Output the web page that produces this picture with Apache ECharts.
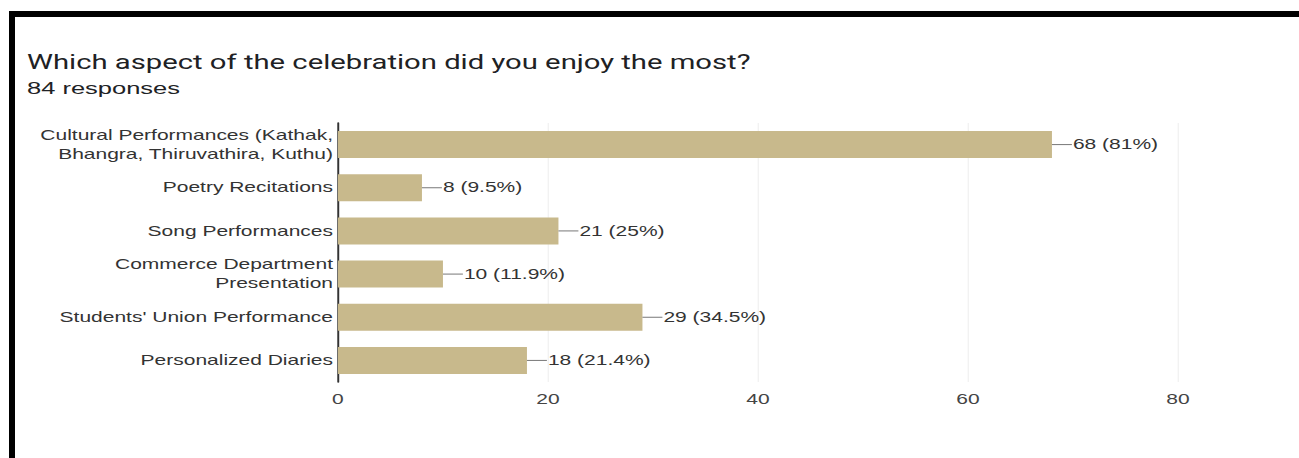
<!DOCTYPE html>
<html>
<head>
<meta charset="utf-8">
<script src="https://cdn.jsdelivr.net/npm/echarts@6/dist/echarts.min.js"></script>
<style>
  html, body { margin: 0; padding: 0; background: #fff; overflow: hidden; }
  #frame { position: absolute; left: 9px; top: 11px; width: 1290px; height: 447px;
           border-top: 6px solid #000; border-left: 6px solid #000; box-sizing: border-box; }
  /* the reference picture is stretched horizontally; reproduce that with a scaleX */
  #chart { position: absolute; left: 0; top: 0; width: 866px; height: 458px;
           transform: scaleX(1.5); transform-origin: 0 0; }
</style>
</head>
<body>
<div id="frame"></div>
<div id="chart"></div>
<script>
const categories = [
  'Cultural Performances (Kathak,\nBhangra, Thiruvathira, Kuthu)',
  'Poetry Recitations',
  'Song Performances',
  'Commerce Department\nPresentation',
  "Students' Union Performance",
  'Personalized Diaries'
];
const counts = [68, 8, 21, 10, 29, 18];
const percentLabels = ['81%', '9.5%', '25%', '11.9%', '34.5%', '21.4%'];
const xTicks = [0, 20, 40, 60, 80];

const FONT = "'Liberation Sans', Arial, sans-serif";
const chart = echarts.init(document.getElementById('chart'), null, { renderer: 'svg' });
chart.setOption({
  backgroundColor: 'transparent',
  animation: false,
  title: [
    { text: 'Which aspect of the celebration did you enjoy the most?', left: 18, top: 52, padding: 0,
      textStyle: { fontFamily: "Roboto, Arial, sans-serif", fontSize: 19.5, fontWeight: 'normal', color: '#202124' } },
    { text: '84 responses', left: 18, top: 80, padding: 0,
      textStyle: { fontFamily: FONT, fontSize: 17, fontWeight: 'normal', color: '#202124' } }
  ],
  grid: { left: 225.3, right: 80.7, top: 123, bottom: 76, containLabel: false },
  xAxis: {
    type: 'value', min: 0, max: 80, interval: 20,
    axisLine: { show: false }, axisTick: { show: false },
    splitLine: { show: true, lineStyle: { color: '#f0f0f0', width: 0.8 } },
    axisLabel: { color: '#444', fontFamily: FONT, fontSize: 14, margin: 10,
      formatter: v => xTicks.includes(v) ? String(v) : '' }
  },
  yAxis: {
    type: 'category', inverse: true, data: categories,
    axisLine: { show: true, lineStyle: { color: '#333', width: 1.3 } },
    axisTick: { show: false },
    axisLabel: { color: '#333', fontFamily: FONT, fontSize: 14,
      lineHeight: 19, align: 'right', margin: 3.3 }
  },
  series: [{
    type: 'bar', data: counts, barWidth: 27,
    itemStyle: { color: '#c8b98c' },
    label: {
      show: true, position: 'right', distance: 0,
      formatter: p => '{ln| }{t|' + p.value + ' (' + percentLabels[p.dataIndex] + ')}',
      rich: {
        ln: { width: 13.3, height: 1, backgroundColor: '#777' },
        t: { color: '#333', fontFamily: FONT, fontSize: 14, padding: [0, 0, 0, 0.7] }
      }
    }
  }]
});
</script>
</body>
</html>
